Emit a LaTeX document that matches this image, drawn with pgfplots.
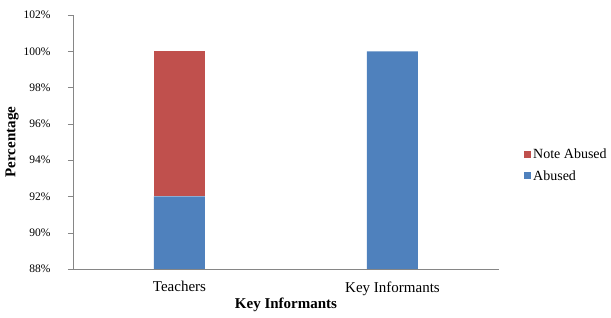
\documentclass[border=0pt]{standalone}
\usepackage{pgfplots}
\pgfplotsset{compat=1.18}
\usepackage{fontspec}
\setmainfont{Liberation Serif}
\definecolor{cblue}{RGB}{79,129,189}
\definecolor{cred}{RGB}{192,80,77}
\definecolor{axgray}{RGB}{134,134,134}
\begin{document}
\begin{tikzpicture}[x=1pt,y=1pt]
\begin{axis}[
  at={(0,0)}, anchor=south west,
  scale only axis, width=426pt, height=254pt,
  ybar stacked, bar width=51pt,
  xmin=0, xmax=2, ymin=88, ymax=102,
  xtick={0.5,1.5}, xticklabels={Teachers, Key Informants},
  ytick={88,90,...,102},
  axis x line*=bottom, axis y line*=left,
  axis line style={axgray, -},
  major tick length=5pt,
  tick align=outside,
  y tick style={axgray},
  x tick style={draw=none},
  yticklabel={\pgfmathprintnumber{\tick}\%},
  /pgf/number format/assume math mode=true,
  y tick label style={font=\fontsize{11.5}{14}\selectfont, xshift=-14pt},
  x tick label style={font=\fontsize{15}{17}\selectfont, yshift=-4pt},
  xlabel={\textbf{Key Informants}},
  ylabel={\textbf{Percentage}},
  xlabel style={font=\fontsize{15}{17}\selectfont, yshift=4pt},
  ylabel style={font=\fontsize{15}{17}\selectfont, yshift=-2pt},
  reverse legend,
  legend style={at={(448pt,124pt)}, anchor=north west, draw=none, fill=none,
    font=\fontsize{14}{16}\selectfont, row sep=6pt, legend cell align=left},
  legend image code/.code={\fill[#1] (0pt,-3pt) rectangle (7pt,4pt);},
]
\addplot[fill=cblue, draw=none] coordinates {(0.5,92) (1.5,100)};
\addplot[fill=cred, draw=none] coordinates {(0.5,8) (1.5,0)};
\legend{Abused, Note Abused}
\end{axis}
\pgfresetboundingbox
\useasboundingbox (-73,-49) rectangle (538,269);
\end{tikzpicture}
\end{document}
